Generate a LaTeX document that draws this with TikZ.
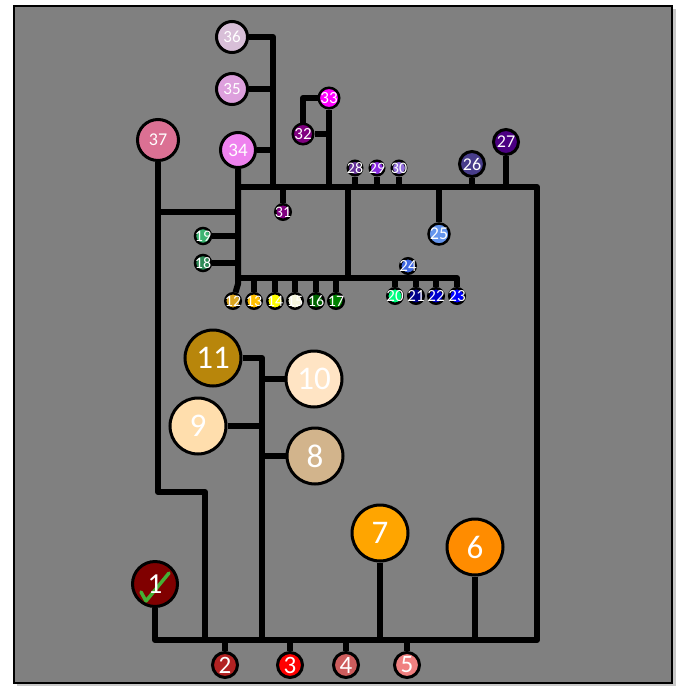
\documentclass[tikz,border=0pt]{standalone}
\usepackage{fontspec}
\setmainfont{Carlito}
\usetikzlibrary{calc}
\definecolor{bggray}{HTML}{808080}
\definecolor{shadowgray}{HTML}{C8C8C8}
\definecolor{checkgreen}{HTML}{45B035}
\definecolor{c1}{HTML}{800000}
\definecolor{c2}{HTML}{B22222}
\definecolor{c3}{HTML}{FF0000}
\definecolor{c4}{HTML}{CD5C5C}
\definecolor{c5}{HTML}{F08080}
\definecolor{c6}{HTML}{FF8C00}
\definecolor{c7}{HTML}{FFA500}
\definecolor{c8}{HTML}{D2B48C}
\definecolor{c9}{HTML}{FFDEAD}
\definecolor{c10}{HTML}{FFE4C4}
\definecolor{c11}{HTML}{B8860B}
\definecolor{c12}{HTML}{DAA520}
\definecolor{c13}{HTML}{FFC000}
\definecolor{c14}{HTML}{FFFF00}
\definecolor{c15}{HTML}{F5F5DC}
\definecolor{c16}{HTML}{006400}
\definecolor{c17}{HTML}{008000}
\definecolor{c18}{HTML}{2E8B57}
\definecolor{c19}{HTML}{3CB371}
\definecolor{c20}{HTML}{00FF7F}
\definecolor{c21}{HTML}{00008B}
\definecolor{c22}{HTML}{0000CD}
\definecolor{c23}{HTML}{0000FF}
\definecolor{c24}{HTML}{4169E1}
\definecolor{c25}{HTML}{6495ED}
\definecolor{c26}{HTML}{483D8B}
\definecolor{c27}{HTML}{4B0082}
\definecolor{c28}{HTML}{663399}
\definecolor{c29}{HTML}{8A2BE2}
\definecolor{c30}{HTML}{9370DB}
\definecolor{c31}{HTML}{800080}
\definecolor{c32}{HTML}{800080}
\definecolor{c33}{HTML}{FF00FF}
\definecolor{c34}{HTML}{EE82EE}
\definecolor{c35}{HTML}{DDA0DD}
\definecolor{c36}{HTML}{D8BFD8}
\definecolor{c37}{HTML}{DB7093}
\newcommand\fsz[1]{\fontsize{#1}{#1}\selectfont}
\newcommand\mbx[1]{\makebox[0pt]{#1}}
\begin{document}
\begin{tikzpicture}[x=1pt,y=-1pt,
  ln/.style={line width=6pt, line join=round},
  nd/.style={circle, draw=black, line width=3pt, text=white, inner sep=0pt},
  bignd/.style={nd, minimum size=56pt, font=\fsz{33}},
  midnd/.style={nd, minimum size=25pt, font=\fsz{25}},
  smallnd/.style={nd, line width=2.5pt, minimum size=15.5pt, font=\fsz{16}},
  tinynd/.style={nd, line width=2.5pt, minimum size=14.5pt, font=\fsz{16}},
]
\useasboundingbox (0,0) rectangle (678,686);
\fill[white] (0,0) rectangle (678,686);
\fill[shadowgray] (17,9) rectangle (676,686);
\draw[fill=bggray, line width=1.5pt] (14,6) rectangle (672,683);

% nodes
\node[bignd, fill=c11] (n11) at (213,358) {\mbx{11}};
\node[bignd, fill=c10] (n10) at (314,379) {\mbx{10}};
\node[bignd, fill=c9]  (n9)  at (198,426) {\mbx{9}};
\node[bignd, fill=c8]  (n8)  at (315,456) {\mbx{8}};
\node[bignd, fill=c7]  (n7)  at (380,533) {\mbx{7}};
\node[bignd, fill=c6]  (n6)  at (475,547) {\mbx{6}};
\node[nd, minimum size=45pt, font=\fsz{29}, fill=c1,
  path picture={\draw[checkgreen, line width=3.5pt, line cap=round, line join=round]
    ($(path picture bounding box.center)+(-14,8)$) --
    ($(path picture bounding box.center)+(-9,17)$) --
    ($(path picture bounding box.center)+(14,-11)$);}] (n1) at (155,584) {\mbx{1}};
\node[midnd, fill=c2] (n2) at (225,665) {\mbx{2}};
\node[midnd, fill=c3] (n3) at (290,665) {\mbx{3}};
\node[midnd, fill=c4] (n4) at (346,665) {\mbx{4}};
\node[midnd, fill=c5] (n5) at (407,665) {\mbx{5}};

\node[smallnd, fill=c12] (n12) at (233,301) {\mbx{12}};
\node[smallnd, fill=c13] (n13) at (254,301) {\mbx{13}};
\node[smallnd, fill=c14] (n14) at (275,301) {\mbx{14}};
\node[smallnd, fill=c15] (n15) at (295,301) {\mbx{15}};
\node[smallnd, fill=c16] (n16) at (316,301) {\mbx{16}};
\node[smallnd, fill=c17] (n17) at (336,301) {\mbx{17}};
\node[smallnd, minimum size=16pt, fill=c18] (n18) at (203,263) {\mbx{18}};
\node[smallnd, minimum size=16pt, fill=c19] (n19) at (203,236) {\mbx{19}};
\node[smallnd, font=\fsz{17}, fill=c20] (n20) at (395,296) {\mbx{20}};
\node[smallnd, font=\fsz{17}, fill=c21] (n21) at (416,296) {\mbx{21}};
\node[smallnd, font=\fsz{17}, fill=c22] (n22) at (436,296) {\mbx{22}};
\node[smallnd, font=\fsz{17}, fill=c23] (n23) at (457,296) {\mbx{23}};
\node[smallnd, font=\fsz{17}, fill=c24] (n24) at (408,266) {\mbx{24}};
\node[nd, line width=2.5pt, minimum size=21pt, font=\fsz{18}, fill=c25] (n25) at (439,234) {\mbx{25}};
\node[nd, minimum size=25pt, font=\fsz{18}, fill=c26] (n26) at (472,164) {\mbx{26}};
\node[nd, minimum size=25pt, font=\fsz{18}, fill=c27] (n27) at (506,142) {\mbx{27}};
\node[tinynd, fill=c28] (n28) at (355,168) {\mbx{28}};
\node[tinynd, fill=c29] (n29) at (377,168) {\mbx{29}};
\node[tinynd, fill=c30] (n30) at (399,168) {\mbx{30}};
\node[smallnd, fill=c31] (n31) at (283,212) {\mbx{31}};
\node[nd, line width=2.5pt, minimum size=20.5pt, font=\fsz{17}, fill=c32] (n32) at (303,134) {\mbx{32}};
\node[nd, line width=2.5pt, minimum size=20.5pt, font=\fsz{17}, fill=c33] (n33) at (329,98) {\mbx{33}};
\node[nd, minimum size=35pt, font=\fsz{19}, fill=c34] (n34) at (238,150) {\mbx{34}};
\node[nd, minimum size=31pt, font=\fsz{17}, fill=c35] (n35) at (232,89) {\mbx{35}};
\node[nd, minimum size=31pt, font=\fsz{17}, fill=c36] (n36) at (232,37) {\mbx{36}};
\node[nd, minimum size=41pt, font=\fsz{18}, fill=c37] (n37) at (158,140) {\mbx{37}};

% junction coordinates
\coordinate (tl) at (238,187);
\coordinate (tr) at (537,187);
\coordinate (br) at (537,640);
\coordinate (bl) at (155,640);
\coordinate (lbl) at (238,278);
\coordinate (lbr) at (457,278);
\coordinate (k12) at (238,284);
\coordinate (k37a) at (158,492);
\coordinate (k37b) at (205,492);
\coordinate (k37c) at (205,640);
\coordinate (h1) at (158,212);
\coordinate (h2) at (238,212);
\coordinate (t36) at (273,37);
\coordinate (t35) at (273,89);
\coordinate (t34) at (273,150);
\coordinate (tbot) at (273,187);
\coordinate (k32) at (303,98);
\coordinate (t32) at (329,134);
\coordinate (t33) at (329,187);
\coordinate (m1) at (348,187);
\coordinate (m2) at (348,278);
\coordinate (lt) at (262,358);
\coordinate (lb) at (262,640);

% connectors
\draw[ln] (n1) -- (bl) -- (br) -- (tr) -- (tl);
\draw[ln] (n34) -- (tl) -- (k12) -- (n12);
\draw[ln] (lbl) -- (lbr) -- (n23);
\draw[ln] (n37) -- (k37a) -- (k37b) -- (k37c);
\draw[ln] (h1) -- (h2);
\draw[ln] (n19) -- (n19 -| tl);
\draw[ln] (n18) -- (n18 -| tl);
\draw[ln] (n36) -- (t36) -- (tbot);
\draw[ln] (n35) -- (t35);
\draw[ln] (n34) -- (t34);
\draw[ln] (n33) -- (t33);
\draw[ln] (n32) -- (t32);
\draw[ln] (n32) -- (k32) -- (n33);
\draw[ln] (n31) -- (n31 |- tl);
\draw[ln] (n28) -- (n28 |- tl);
\draw[ln] (n29) -- (n29 |- tl);
\draw[ln] (n30) -- (n30 |- tl);
\draw[ln] (n26) -- (n26 |- tl);
\draw[ln] (n27) -- (n27 |- tl);
\draw[ln] (n25) -- (n25 |- tl);
\draw[ln] (m1) -- (m2);
\foreach \n in {13,14,15,16,17,20,21,22,24}{
  \draw[ln] (n\n) -- (n\n |- lbl);
}
\draw[ln] (n11) -- (lt) -- (lb);
\draw[ln] (n10) -- (n10 -| lt);
\draw[ln] (n9) -- (n9 -| lt);
\draw[ln] (n8) -- (n8 -| lt);
\draw[ln] (n7) -- (n7 |- bl);
\draw[ln] (n6) -- (n6 |- bl);
\foreach \n in {2,3,4,5}{
  \draw[ln] (n\n) -- (n\n |- bl);
}
\end{tikzpicture}
\end{document}
